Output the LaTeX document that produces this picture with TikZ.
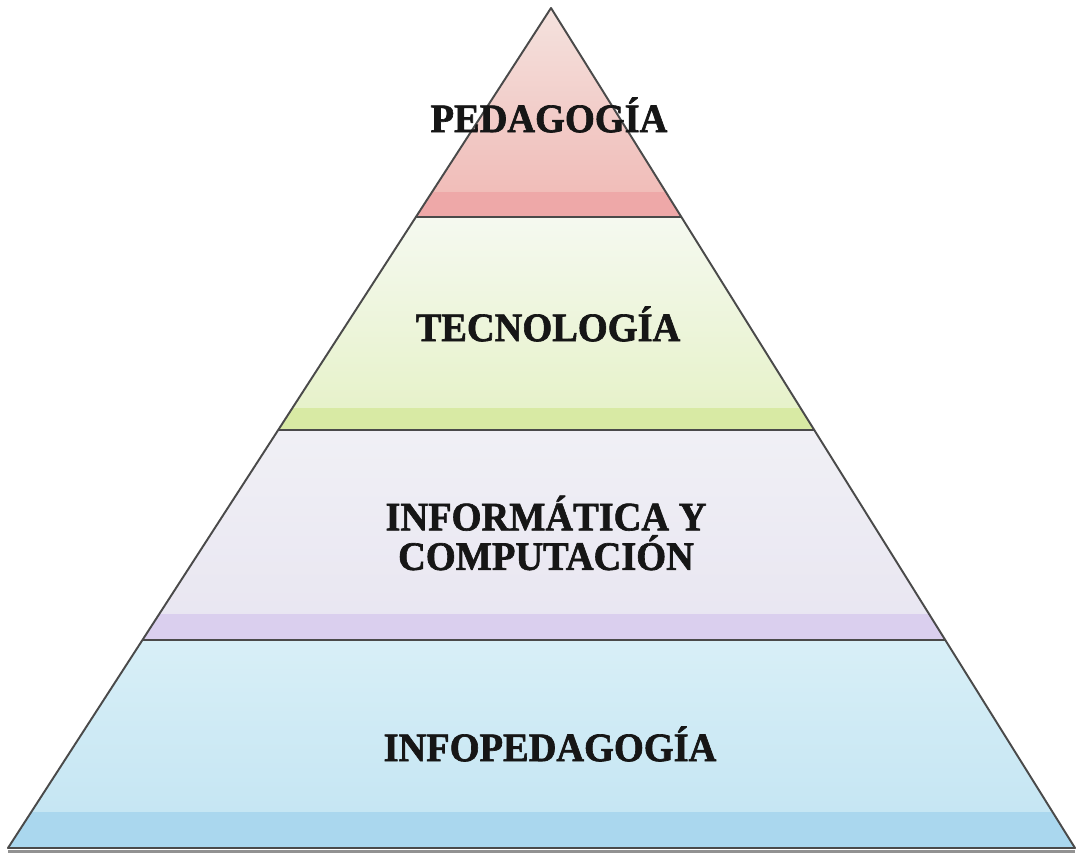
\documentclass[tikz,border=0pt]{standalone}
\usepackage{fontspec}
\setmainfont{Liberation Serif}
\newfontfamily\heavyfont{Liberation Serif Bold}[FakeBold=1.6]
\usetikzlibrary{calc}

\definecolor{pedtop}{HTML}{F4E2DE}
\definecolor{pedbot}{HTML}{F0B8B4}
\definecolor{pedstrip}{HTML}{EEA8A8}
\definecolor{tectop}{HTML}{F5F9F0}
\definecolor{tecbot}{HTML}{E5F1C6}
\definecolor{tecstrip}{HTML}{D8EAA4}
\definecolor{inftop}{HTML}{F0F0F5}
\definecolor{infbot}{HTML}{E8E5F1}
\definecolor{infstrip}{HTML}{DACFEE}
\definecolor{iptop}{HTML}{D8EFF7}
\definecolor{ipbot}{HTML}{C2E4F2}
\definecolor{ipstrip}{HTML}{AAD7EE}
\definecolor{edge}{HTML}{4A4A4A}
\definecolor{ink}{HTML}{161616}

\tikzset{
	levellabel/.style={font=\heavyfont\fontsize{23}{22.5}\selectfont, text=ink, align=center, xscale=0.95},
	outline/.style={draw=edge, line width=1.1pt, line join=round},
}

\begin{document}
\begin{tikzpicture}[x=0.02cm,y=0.02cm]

% parameters %{{{2

	\def\tone{0.2488}
	\def\ttwo{0.5024}
	\def\tthree{0.7524}

	\useasboundingbox (0,0) rectangle (1077,854);

% coordinates %{{{2

	\coordinate (A) at (551,846);
	\coordinate (L) at (8,6);
	\coordinate (R) at (1075,6);

	\coordinate (L1) at ($(A)!\tone!(L)$);
	\coordinate (R1) at ($(A)!\tone!(R)$);
	\coordinate (L2) at ($(A)!\ttwo!(L)$);
	\coordinate (R2) at ($(A)!\ttwo!(R)$);
	\coordinate (L3) at ($(A)!\tthree!(L)$);
	\coordinate (R3) at ($(A)!\tthree!(R)$);

% bands %{{{2

	\begin{scope}
		\clip (L) -- (A) -- (R) -- cycle;
		\shade[top color=pedtop, bottom color=pedbot] (0,637) rectangle (1077,846);
		\fill[pedstrip] (0,637) rectangle (1077,662);
		\shade[top color=tectop, bottom color=tecbot] (0,424) rectangle (1077,637);
		\fill[tecstrip] (0,424) rectangle (1077,446);
		\shade[top color=inftop, bottom color=infbot] (0,214) rectangle (1077,424);
		\fill[infstrip] (0,214) rectangle (1077,240);
		\shade[top color=iptop, bottom color=ipbot] (0,6) rectangle (1077,214);
		\fill[ipstrip] (0,6) rectangle (1077,42);
	\end{scope}

% separators %{{{2

	\draw[outline] (L1) -- (R1);
	\draw[outline] (L2) -- (R2);
	\draw[outline] (L3) -- (R3);

% pyramid %{{{2

	\draw[edge!60, line width=2pt] ([yshift=-2]L) -- ([yshift=-2]R);
	\draw[outline] (L) -- (A) -- (R) -- cycle;

% labels %{{{2

	\node[levellabel] (pedagogia) at (549,739) {PEDAGOGÍA};
	\node[levellabel] (tecnologia) at (548,530) {TECNOLOGÍA};
	\node[levellabel] (informatica) at (546,321) {INFORMÁTICA Y\\COMPUTACIÓN};
	\node[levellabel] (infopedagogia) at (550,110) {INFOPEDAGOGÍA};

% closing %{{{2

\end{tikzpicture}
\end{document}
